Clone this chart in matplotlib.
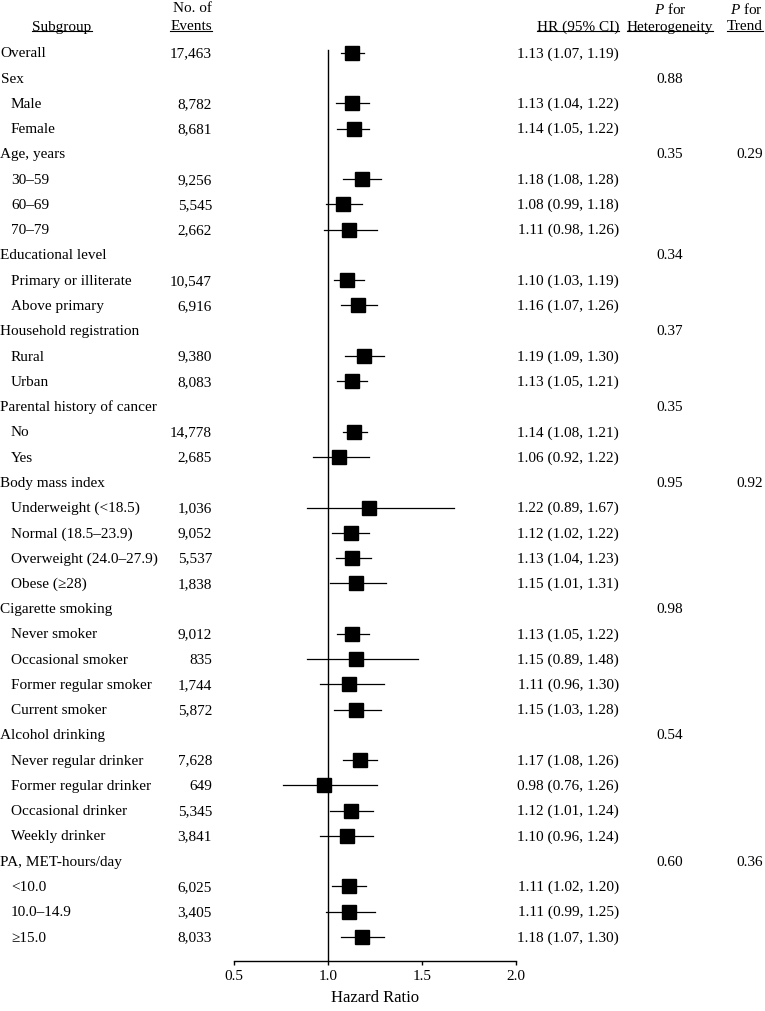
import numpy as np
import matplotlib
matplotlib.use("Agg")
import matplotlib.pyplot as plt
import matplotlib.transforms as mtransforms
from matplotlib.lines import Line2D

plt.rcParams['font.family'] = ['Liberation Serif', 'DejaVu Serif']
plt.rcParams['mathtext.fontset'] = 'custom'
plt.rcParams['mathtext.rm'] = 'Liberation Serif'
plt.rcParams['mathtext.it'] = 'Liberation Serif:italic'

# rows of the forest plot (group headings have no estimate)
labels = ["Overall", "Sex", "Male", "Female", "Age, years", "30\u201359", "60\u201369", "70\u201379",
          "Educational level", "Primary or illiterate", "Above primary",
          "Household registration", "Rural", "Urban",
          "Parental history of cancer", "No", "Yes",
          "Body mass index", "Underweight (<18.5)", "Normal (18.5\u201323.9)",
          "Overweight (24.0\u201327.9)", "Obese (\u226528)",
          "Cigarette smoking", "Never smoker", "Occasional smoker", "Former regular smoker", "Current smoker",
          "Alcohol drinking", "Never regular drinker", "Former regular drinker", "Occasional drinker",
          "Weekly drinker",
          "PA, MET-hours/day", "<10.0", "10.0\u201314.9", "\u226515.0"]
is_sub = [0, 0, 1, 1, 0, 1, 1, 1, 0, 1, 1, 0, 1, 1, 0, 1, 1, 0, 1, 1, 1, 1,
          0, 1, 1, 1, 1, 0, 1, 1, 1, 1, 0, 1, 1, 1]
events = ["17,463", "", "8,782", "8,681", "", "9,256", "5,545", "2,662", "", "10,547", "6,916",
          "", "9,380", "8,083", "", "14,778", "2,685", "", "1,036", "9,052", "5,537", "1,838",
          "", "9,012", "835", "1,744", "5,872", "", "7,628", "649", "5,345", "3,841",
          "", "6,025", "3,405", "8,033"]
hr = [1.13, None, 1.13, 1.14, None, 1.18, 1.08, 1.11, None, 1.10, 1.16, None, 1.19, 1.13,
      None, 1.14, 1.06, None, 1.22, 1.12, 1.13, 1.15, None, 1.13, 1.15, 1.11, 1.15,
      None, 1.17, 0.98, 1.12, 1.10, None, 1.11, 1.11, 1.18]
lo = [1.07, None, 1.04, 1.05, None, 1.08, 0.99, 0.98, None, 1.03, 1.07, None, 1.09, 1.05,
      None, 1.08, 0.92, None, 0.89, 1.02, 1.04, 1.01, None, 1.05, 0.89, 0.96, 1.03,
      None, 1.08, 0.76, 1.01, 0.96, None, 1.02, 0.99, 1.07]
hi = [1.19, None, 1.22, 1.22, None, 1.28, 1.18, 1.26, None, 1.19, 1.26, None, 1.30, 1.21,
      None, 1.21, 1.22, None, 1.67, 1.22, 1.23, 1.31, None, 1.22, 1.48, 1.30, 1.28,
      None, 1.26, 1.26, 1.24, 1.24, None, 1.20, 1.25, 1.30]
p_het = {"Sex": "0.88", "Age, years": "0.35", "Educational level": "0.34",
         "Household registration": "0.37", "Parental history of cancer": "0.35",
         "Body mass index": "0.95", "Cigarette smoking": "0.98", "Alcohol drinking": "0.54",
         "PA, MET-hours/day": "0.60"}
p_trend = {"Age, years": "0.29", "Body mass index": "0.92", "PA, MET-hours/day": "0.36"}

W, H = 765, 1012
fig = plt.figure(figsize=(W / 100, H / 100), dpi=100)
ax = fig.add_axes([234 / W, 50 / H, 282 / W, 922 / H])

n = len(labels)
ypos = np.arange(n)
for i in range(n):
    if hr[i] is None:
        continue
    ax.plot([lo[i], hi[i]], [ypos[i], ypos[i]], color='black', lw=0.9, clip_on=False, zorder=2)
    ax.plot(hr[i], ypos[i], marker='s', ms=9.5, color='black', clip_on=False, zorder=3)

ax.set_xlim(0.5, 2.0)
ax.set_ylim(35.95, -0.55)
ax.plot([1, 1], [35.95, -0.1], color='black', lw=1.0, zorder=1)
for s in ['top', 'right', 'left']:
    ax.spines[s].set_visible(False)
ax.spines['bottom'].set_linewidth(1.0)
ax.set_yticks([])
ax.set_xticks([0.5, 1.0, 1.5, 2.0])
ax.set_xticklabels(["0.5", "1.0", "1.5", "2.0"])
ax.tick_params(axis='x', direction='out', length=3, width=1.0, labelsize=11, pad=3)
ax.set_xlabel("Hazard Ratio", fontsize=12, labelpad=5)

fs = 11
tr = mtransforms.blended_transform_factory(fig.transFigure, ax.transData)
for i in range(n):
    x0 = 11 / W if is_sub[i] else 0.5 / W
    fig.text(x0, ypos[i], labels[i], transform=tr, ha='left', va='center', fontsize=fs)
    if events[i]:
        fig.text(212 / W, ypos[i], events[i], transform=tr, ha='right', va='center', fontsize=fs)
    if hr[i] is not None:
        fig.text(619 / W, ypos[i], f"{hr[i]:.2f} ({lo[i]:.2f}, {hi[i]:.2f})", transform=tr,
                 ha='right', va='center', fontsize=fs)
    if labels[i] in p_het:
        fig.text(670 / W, ypos[i], p_het[labels[i]], transform=tr, ha='center', va='center', fontsize=fs)
    if labels[i] in p_trend:
        fig.text(763 / W, ypos[i], p_trend[labels[i]], transform=tr, ha='right', va='center', fontsize=fs)

# column headers
def fy(py):
    return 1 - py / H

underlined = [
    fig.text(62 / W, fy(27), "Subgroup", ha='center', va='center', fontsize=fs),
    fig.text(212 / W, fy(27), "Events", ha='right', va='center', fontsize=fs),
    fig.text(619 / W, fy(27), "HR (95% CI)", ha='right', va='center', fontsize=fs),
    fig.text(670 / W, fy(27), "Heterogeneity", ha='center', va='center', fontsize=fs),
    fig.text(763 / W, fy(27), "Trend", ha='right', va='center', fontsize=fs),
]
fig.text(212 / W, fy(9), "No. of", ha='right', va='center', fontsize=fs)
fig.text(670 / W, fy(9), "$P$ for", ha='center', va='center', fontsize=fs)
fig.text(763 / W, fy(9), "$P$ for", ha='right', va='center', fontsize=fs)

renderer = fig.canvas.get_renderer()
for t in underlined:
    bb = t.get_window_extent(renderer)
    yy = (bb.y0 + 1.5) / H
    fig.add_artist(Line2D([bb.x0 / W, bb.x1 / W], [yy, yy], color='black', lw=0.8,
                          transform=fig.transFigure))

fig.savefig("out.png", dpi=100)
